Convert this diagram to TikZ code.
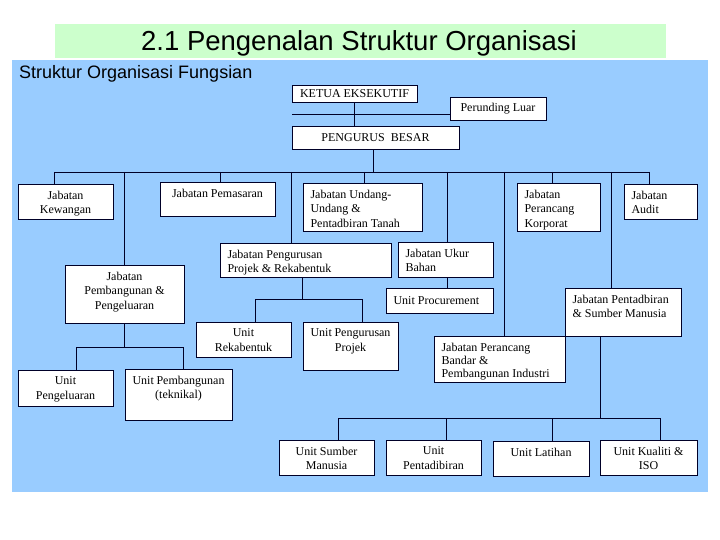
\documentclass[tikz,border=0pt]{standalone}
\usepackage{fontspec}
\setmainfont{Liberation Serif}
\newfontfamily\arialf{Liberation Sans}
\definecolor{bandgreen}{RGB}{204,255,204}
\definecolor{bgblue}{RGB}{153,204,255}
\definecolor{linec}{RGB}{0,0,40}
\tikzset{
  orgnode/.style={draw=linec, line width=0.9pt, fill=white, inner sep=0pt, rectangle, font=\fontsize{12}{14.5}\selectfont},
  conn/.style={draw=linec, line width=0.9pt}
}
\newcommand\orgbox[8]{%
  \pgfmathsetmacro\bxw{#4-#2}%
  \pgfmathsetmacro\bxh{#5-#3}%
  \pgfmathsetmacro\bxcx{(#2+#4)/2}%
  \pgfmathsetmacro\bxcy{(#3+#5)/2}%
  \pgfmathsetmacro\bxtw{\bxw-15}%
  \node[orgnode, minimum width=\bxw pt, minimum height=\bxh pt] (#1) at (\bxcx,\bxcy)
   {\parbox[c][\bxh pt][#7]{\bxtw pt}{\ifx l#6\raggedright\else\centering\fi\ifx t#7\vspace*{7pt}\fi #8}};%
}
\begin{document}
\begin{tikzpicture}[x=1pt,y=-1pt]
\useasboundingbox (0,0) rectangle (720,540);
\fill[white] (0,0) rectangle (720,540);
\fill[bandgreen] (55,24) rectangle (666,58);
\fill[bgblue] (12,60) rectangle (708,492);
\node[anchor=base, font=\arialf\fontsize{27.5}{30}\selectfont, inner sep=0pt] (title) at (359,51) {2.1 Pengenalan Struktur Organisasi};
\node[anchor=base west, font=\arialf\fontsize{18}{20}\selectfont, inner sep=0pt] (subtitle) at (19,79) {Struktur Organisasi Fungsian};

% top
\orgbox{ketua}{292}{85}{417}{102}{c}{c}{KETUA EKSEKUTIF}
\orgbox{per}{450}{97}{546}{120}{c}{c}{Perunding Luar}
\orgbox{pb}{292}{126}{459}{149}{c}{c}{PENGURUS\ \ BESAR}
% row 1
\orgbox{kew}{18}{184}{113}{219}{c}{t}{Jabatan\\Kewangan}
\orgbox{pem}{160}{182}{275}{216}{c}{t}{Jabatan Pemasaran}
\orgbox{und}{303}{183}{422}{231}{l}{t}{Jabatan Undang-\\Undang \&\\Pentadbiran Tanah}
\orgbox{kor}{517}{183}{600}{231}{l}{t}{Jabatan\\Perancang\\Korporat}
\orgbox{aud}{624}{184}{697}{219}{l}{t}{Jabatan\\Audit}
% row 2
\orgbox{jpr}{220}{243}{391}{277}{l}{t}{Jabatan Pengurusan\\Projek \& Rekabentuk}
\orgbox{ukb}{398}{242}{493}{277}{l}{t}{Jabatan Ukur\\Bahan}
\orgbox{proc}{386}{288}{493}{313}{l}{c}{Unit Procurement}
\orgbox{jpp}{65}{265}{184}{323}{c}{t}{Jabatan\\Pembangunan \&\\Pengeluaran}
\orgbox{pen}{565}{288}{681}{336}{l}{t}{Jabatan Pentadbiran\\\& Sumber Manusia}
% row 3
\orgbox{urk}{196}{322}{291}{357}{c}{t}{Unit\\Rekabentuk}
\orgbox{upp}{303}{322}{398}{370}{c}{t}{Unit Pengurusan\\Projek}
\orgbox{jpb}{434}{336}{565}{382}{l}{t}{\fontsize{12}{13.2}\selectfont Jabatan Perancang\\Bandar \&\\Pembangunan Industri}
\orgbox{upg}{18}{370}{113}{406}{c}{t}{Unit\\Pengeluaran}
\orgbox{upb}{125}{369}{232}{420}{c}{t}{Unit Pembangunan\\(teknikal)}
% bottom
\orgbox{usm}{279}{440}{374}{475}{c}{t}{Unit Sumber\\Manusia}
\orgbox{upt}{386}{440}{481}{475}{c}{t}{Unit\\Pentadibiran}
\orgbox{ult}{493}{441}{589}{476}{c}{t}{Unit Latihan}
\orgbox{ukl}{600}{440}{697}{475}{c}{t}{Unit Kualiti \&\\ISO}

% coordinates for bars
\coordinate (busL) at (54,172);
\coordinate (busR) at (649,172);
\coordinate (barA) at (0,299);
\coordinate (barB) at (0,347);
\coordinate (barC) at (0,418);

% connectors top
\draw[conn] ([xshift=63pt]ketua.south west) -- ([xshift=63pt]ketua.south west |- pb.north);
\draw[conn] ([yshift=-5.5pt]per.west) -- ([yshift=-5.5pt]per.west -| ketua.south west) ++(63,0);
\draw[conn] ([xshift=82pt]pb.south west) -- ([xshift=82pt]pb.south west |- busL);
\draw[conn] (busL) -- (busR);
% drops from bus
\draw[conn] (busL) -- (busL |- kew.north);
\draw[conn] (jpp.north |- busL) -- (jpp.north);
\draw[conn] ([xshift=2.5pt]pem.north |- busL) -- ([xshift=2.5pt]pem.north);
\draw[conn] ([xshift=72pt]jpr.north west |- busL) -- ([xshift=72pt]jpr.north west);
\draw[conn] ([xshift=1.5pt]und.north |- busL) -- ([xshift=1.5pt]und.north);
\draw[conn] ([xshift=1.5pt]ukb.north |- busL) -- ([xshift=1.5pt]ukb.north);
\draw[conn] ([xshift=71pt]jpb.north west |- busL) -- ([xshift=71pt]jpb.north west);
\draw[conn] ([xshift=36pt]kor.north west |- busL) -- ([xshift=36pt]kor.north west);
\draw[conn] ([xshift=47pt]pen.north west |- busL) -- ([xshift=47pt]pen.north west);
\draw[conn] (busR) -- (busR |- aud.north);
% ukur bahan -> procurement
\draw[conn] ([xshift=1.5pt]ukb.south) -- ([xshift=1.5pt]ukb.south |- proc.north);
% jabatan pengurusan projek -> units
\draw[conn] ([xshift=83pt]jpr.south west) -- ([xshift=83pt]jpr.south west |- barA);
\draw[conn] ([xshift=60pt]urk.north west) -- ([xshift=60pt]urk.north west |- barA) -- ([xshift=60pt]upp.north west |- barA) -- ([xshift=60pt]upp.north west);
% jabatan pembangunan -> units
\draw[conn] (jpp.south) -- (jpp.south |- barB);
\draw[conn] ([xshift=59pt]upg.north west) -- ([xshift=59pt]upg.north west |- barB) -- ([xshift=59pt]upb.north west |- barB) -- ([xshift=59pt]upb.north west);
% pentadbiran -> units
\draw[conn] ([xshift=36pt]pen.south west) -- ([xshift=36pt]pen.south west |- barC);
\draw[conn] ([xshift=60pt]usm.north west) -- ([xshift=60pt]usm.north west |- barC) -- ([xshift=61pt]ukl.north west |- barC) -- ([xshift=61pt]ukl.north west);
\draw[conn] ([xshift=61pt]upt.north west |- barC) -- ([xshift=61pt]upt.north west);
\draw[conn] ([xshift=60pt]ult.north west |- barC) -- ([xshift=60pt]ult.north west);
\end{tikzpicture}
\end{document}
